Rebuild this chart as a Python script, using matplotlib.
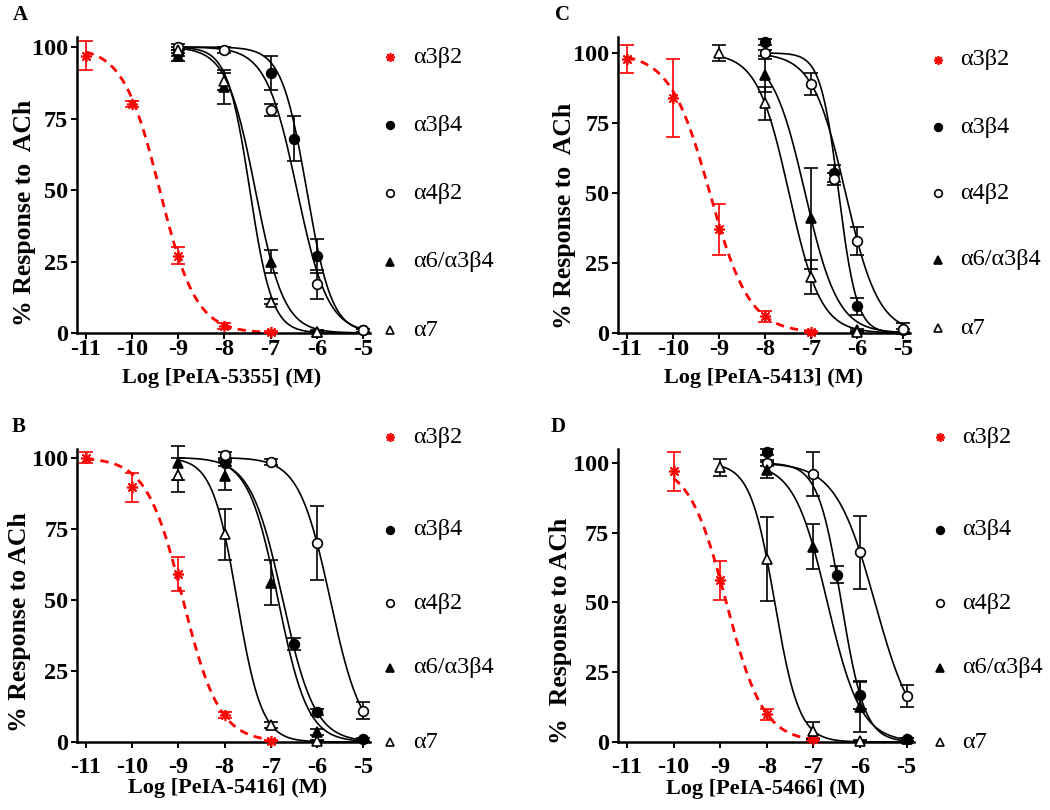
import matplotlib
matplotlib.use("Agg")
import matplotlib.pyplot as plt
import numpy as np

plt.rcParams["font.family"] = ["Liberation Serif", "DejaVu Serif"]
plt.rcParams["axes.unicode_minus"] = False

RECEPTORS = ["α3β2", "α3β4", "α4β2", "α6/α3β4", "α7"]

# --- panel A: PeIA-5355 -------------------------------------------------
A_DOSE = {"α3β2": [-11, -10, -9, -8, -7], "α3β4": [-9, -7, -6.5, -6, -5],
          "α4β2": [-9, -8, -7, -6, -5], "α6/α3β4": [-9, -8, -7, -6],
          "α7": [-9, -8, -7, -6]}
A_RESP = {"α3β2": [97, 80, 27, 2.5, 0.3], "α3β4": [98, 91, 68, 27, 1],
          "α4β2": [100, 99, 78, 17, 1], "α6/α3β4": [97, 86, 25, 0.5],
          "α7": [99, 88, 11, 0.5]}
A_SEM = {"α3β2": [5, 1, 3, 1, 0.3], "α3β4": [1, 6, 8, 6, 0.5],
         "α4β2": [1, 1, 2, 5, 0.5], "α6/α3β4": [2, 6, 4, 0.5],
         "α7": [1, 3, 1, 0.3]}
A_FIT = {"α3β2": (-9.4, 1.1), "α3β4": (-6.22, 1.6), "α4β2": (-6.43, 1.3),
         "α6/α3β4": (-7.33, 1.4), "α7": (-7.45, 1.8)}

# --- panel B: PeIA-5416 -------------------------------------------------
B_DOSE = {"α3β2": [-11, -10, -9, -8, -7], "α3β4": [-8, -6.5, -6, -5],
          "α4β2": [-8, -7, -6, -5], "α6/α3β4": [-9, -8, -7, -6],
          "α7": [-9, -8, -7, -6]}
B_RESP = {"α3β2": [100, 89.5, 59, 9.5, 0.5], "α3β4": [98, 34.5, 10.5, 1],
          "α4β2": [101, 98.5, 70, 11], "α6/α3β4": [98, 93.5, 56, 3.5],
          "α7": [94, 73, 6, 0.5]}
B_SEM = {"α3β2": [2, 5, 6, 1, 0.3], "α3β4": [1, 2, 1, 0.5],
         "α4β2": [1, 1, 13, 3], "α6/α3β4": [6, 5, 8, 1],
         "α7": [6, 9, 1, 0.3]}
B_FIT = {"α3β2": (-8.9, 1.1), "α3β4": (-6.74, 1.25), "α4β2": (-5.71, 1.28),
         "α6/α3β4": (-6.84, 1.35), "α7": (-7.73, 1.62)}

# --- panel C: PeIA-5413 -------------------------------------------------
C_DOSE = {"α3β2": [-11, -10, -9, -8, -7], "α3β4": [-8, -6.5, -6, -5],
          "α4β2": [-8, -7, -6.5, -6, -5], "α6/α3β4": [-8, -7, -6],
          "α7": [-9, -8, -7, -6]}
C_RESP = {"α3β2": [98, 84, 37, 6, 0.3], "α3β4": [104, 57, 9.5, 1],
          "α4β2": [100, 89, 55, 33, 1.5], "α6/α3β4": [92, 41, 1],
          "α7": [100, 82, 20, 0.5]}
C_SEM = {"α3β2": [5, 14, 9, 2, 0.3], "α3β4": [1, 3, 3, 0.5],
         "α4β2": [1, 4, 2, 5, 2], "α6/α3β4": [6, 18, 0.5],
         "α7": [3, 6, 6, 0.3]}
C_FIT = {"α3β2": (-9.2, 1.0), "α3β4": (-6.4, 2.2), "α4β2": (-6.25, 1.21),
         "α6/α3β4": (-7.13, 1.22), "α7": (-7.48, 1.26)}

# --- panel D: PeIA-5466 -------------------------------------------------
D_DOSE = {"α3β2": [-10, -9, -8, -7], "α3β4": [-8, -6.5, -6, -5],
          "α4β2": [-8, -7, -6, -5], "α6/α3β4": [-8, -7, -6, -5],
          "α7": [-9, -8, -7, -6]}
D_RESP = {"α3β2": [97, 58, 10, 1], "α3β4": [104, 60, 17, 1],
          "α4β2": [100, 96, 68, 16.5], "α6/α3β4": [97.5, 70, 12.5, 1],
          "α7": [98.5, 65.5, 4, 0.5]}
D_SEM = {"α3β2": [7, 7, 2, 0.5], "α3β4": [1, 3, 5, 0.5],
         "α4β2": [1, 8, 13, 4], "α6/α3β4": [3, 8, 9, 0.5],
         "α7": [3, 15, 3, 0.3]}
D_FIT = {"α3β2": (-8.87, 1.09), "α3β4": (-6.4, 1.73), "α4β2": (-5.68, 1.03),
         "α6/α3β4": (-6.7, 1.21), "α7": (-7.83, 1.66)}

PANELS = [
    ("A", "Log [PeIA-5355] (M)", "% Response to  ACh", A_DOSE, A_RESP, A_SEM, A_FIT),
    ("B", "Log [PeIA-5416] (M)", "% Response to ACh", B_DOSE, B_RESP, B_SEM, B_FIT),
    ("C", "Log [PeIA-5413] (M)", "% Response to  ACh", C_DOSE, C_RESP, C_SEM, C_FIT),
    ("D", "Log [PeIA-5466] (M)", "%  Response to ACh", D_DOSE, D_RESP, D_SEM, D_FIT),
]

STYLE = {
    "α3β2": dict(marker=(8, 2, 0), color="red", mfc="red", ms=8, mew=1.2),
    "α3β4": dict(marker="o", color="black", mfc="black", ms=7, mew=1.2),
    "α4β2": dict(marker="o", color="black", mfc="white", ms=7, mew=1.2),
    "α6/α3β4": dict(marker="^", color="black", mfc="black", ms=7, mew=1.2),
    "α7": dict(marker="^", color="black", mfc="white", ms=7, mew=1.2),
}

W, H = 1050, 810
# axes boxes in pixels: left, top, right, bottom; plus y upper limit
BOXES = {
    "A": (76.5, 37, 370, 333, 103.5),
    "B": (76.8, 449, 370, 742, 103),
    "C": (617.8, 37, 910, 333, 105.7),
    "D": (617.7, 449, 913.6, 742, 105),
}
# legend rows (pixels): marker x, text x, row y positions
LEGENDS = {
    "A": (390, 413, [57, 125, 193, 262, 330]),
    "B": (390, 413, [437, 530, 603, 668, 742]),
    "C": (938, 960, [60, 127, 193, 260, 328]),
    "D": (940, 962, [437, 530, 603, 668, 742]),
}
LETTER_POS = {"A": (20, 15), "B": (19, 427), "C": (563, 15), "D": (558, 427)}
YLABEL_POS = {"A": (25, 213), "B": (20, 622), "C": (565, 216), "D": (560, 631)}
XLABEL_POS = {"A": (222, 378), "B": (228, 788), "C": (764, 378), "D": (766, 789)}


def hill(x, log_ic50, slope):
    return 100.0 / (1.0 + 10 ** (slope * (x - log_ic50)))


fig = plt.figure(figsize=(W / 100, H / 100), dpi=100)
ov = fig.add_axes([0, 0, 1, 1])
ov.set_xlim(0, W)
ov.set_ylim(H, 0)
ov.axis("off")

for letter, xlabel, ylabel, dose, resp, sem, fit in PANELS:
    l, t, r, b, ytop = BOXES[letter]
    ax = fig.add_axes([l / W, 1 - b / H, (r - l) / W, (b - t) / H])
    ax.set_xlim(-11.2, -4.85)
    ax.set_ylim(0, ytop)
    for name in RECEPTORS:
        st = STYLE[name]
        x0 = dose[name][0]
        x1 = -7 if name == "α3β2" else -5
        xs = np.linspace(x0, x1, 200)
        ls = (0, (3, 2.2)) if name == "α3β2" else "-"
        lw = 2.0 if name == "α3β2" else 1.2
        ax.plot(xs, hill(xs, *fit[name]), color=st["color"], ls=ls, lw=lw,
                clip_on=False, zorder=2)
        ax.errorbar(dose[name], resp[name], yerr=sem[name], fmt="none",
                    ecolor=st["color"], elinewidth=1.2, capsize=5,
                    capthick=1.2, clip_on=False, zorder=3)
        ax.plot(dose[name], resp[name], ls="none", marker=st["marker"],
                color=st["color"], mfc=st["mfc"], mec=st["color"],
                ms=st["ms"], mew=st["mew"], clip_on=False, zorder=4)
    for s in ("top", "right"):
        ax.spines[s].set_visible(False)
    for s in ("left", "bottom"):
        ax.spines[s].set_linewidth(1.8)
    ax.set_xticks(range(-11, -4))
    ax.set_yticks([0, 25, 50, 75, 100])
    ax.tick_params(axis="both", width=1.4, length=4, labelsize=17.5, pad=2)
    ax.tick_params(axis="x", pad=7 if letter in "BD" else 0.5)
    for lab in ax.get_xticklabels() + ax.get_yticklabels():
        lab.set_fontweight("bold")

    yx, yy = YLABEL_POS[letter]
    ov.text(yx, yy, ylabel, fontsize=18.5, fontweight="bold", rotation=90,
            ha="center", va="center")
    xx, xy = XLABEL_POS[letter]
    ov.text(xx, xy, xlabel, fontsize=16, fontweight="bold", ha="center",
            va="center")

    mx, tx, rows = LEGENDS[letter]
    for name, ry in zip(RECEPTORS, rows):
        st = STYLE[name]
        ov.plot([mx], [ry], ls="none", marker=st["marker"], color=st["color"],
                mfc=st["mfc"], mec=st["color"], ms=st["ms"] - 1.5, mew=st["mew"])
        ov.text(tx, ry, name, fontsize=17.5, va="center", ha="left")
    lx, ly = LETTER_POS[letter]
    ov.text(lx, ly, letter, fontsize=15, fontweight="bold", ha="center",
            va="center")

fig.savefig("out.png", dpi=100)
